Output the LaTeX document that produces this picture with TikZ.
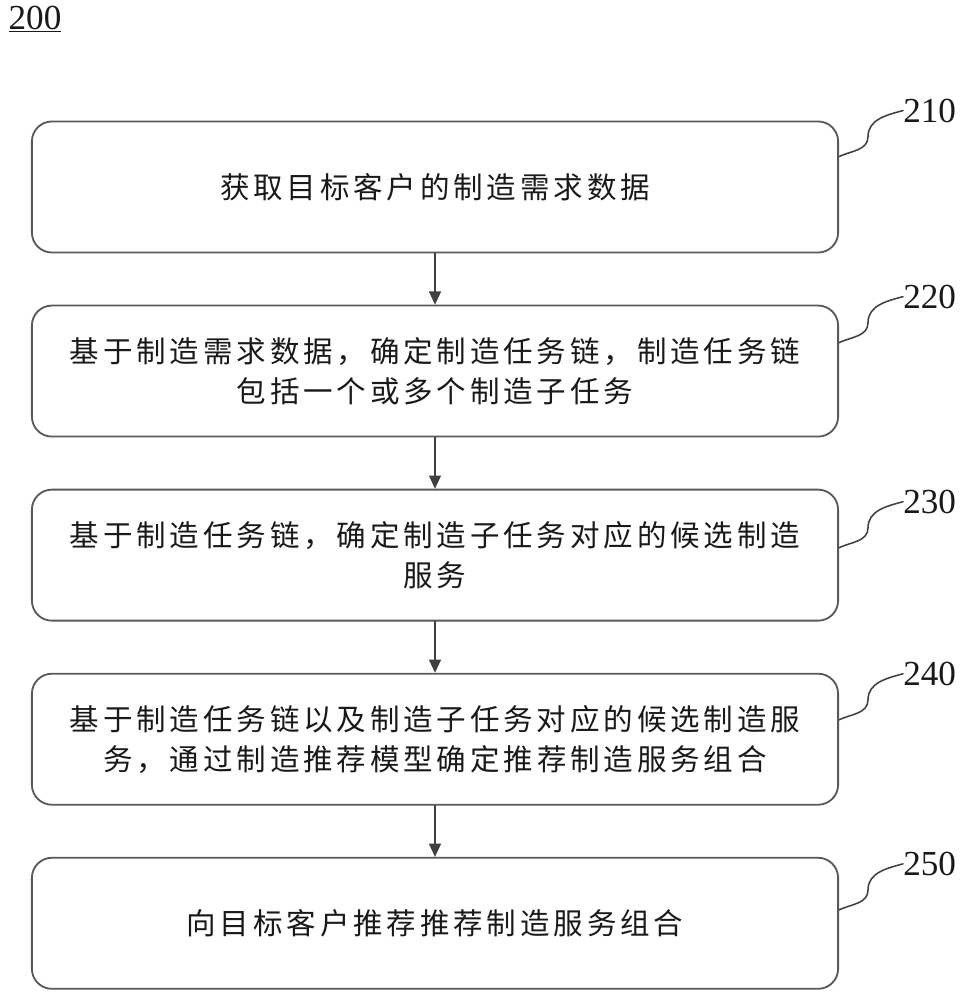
\documentclass[tikz,border=0pt]{standalone}
\usepackage{fontspec}
\setmainfont{Liberation Serif}
\newfontfamily\cjk[LetterSpace=13]{Noto Sans CJK SC}
\usetikzlibrary{positioning,calc,arrows.meta}
\begin{document}
\begin{tikzpicture}[x=0.025cm,y=0.025cm,line cap=round,line join=round,
		stepbox/.style={draw=black!65,line width=1.3pt,rounded corners=0.5cm,minimum width=20.15cm,minimum height=3.275cm,align=center,text=black!90,font=\cjk\fontsize{21pt}{28.5pt}\selectfont},
		numtag/.style={inner sep=0pt,text=black!90,font=\fontsize{25pt}{28pt}\selectfont},
		flow/.style={draw=black!75,line width=1pt,-{Triangle[length=0.33cm,width=0.3cm]}},
		wave/.style={draw=black!75,line width=1.1pt}]
	\useasboundingbox (0,0) rectangle (968,1000);
	\node[numtag] (fig) at (35,981) {\underline{200}};
	\node[stepbox] (s210) at (435,813) {获取目标客户的制造需求数据};
	\node[stepbox,below=1.28cm of s210] (s220) {基于制造需求数据，确定制造任务链，制造任务链\\包括一个或多个制造子任务};
	\node[stepbox,below=1.28cm of s220] (s230) {基于制造任务链，确定制造子任务对应的候选制造\\服务};
	\node[stepbox,below=1.28cm of s230] (s240) {基于制造任务链以及制造子任务对应的候选制造服\\务，通过制造推荐模型确定推荐制造服务组合};
	\node[stepbox,below=1.28cm of s240] (s250) {向目标客户推荐推荐制造服务组合};
	\foreach \a/\b in {210/220,220/230,230/240,240/250}{\draw[flow] (s\a) -- (s\b);}
	\foreach \n/\dy in {210/-10,220/-8,230/13,240/1,250/7}{
		\node[numtag,anchor=west] (t\n) at ($(s\n.north east)+(64,-\dy)$) {\n};
		\coordinate (a\n) at ($(s\n.north east)+(0,-\dy-46)$);
		\draw[wave] (a\n) to[out=25,in=-90] ++(29,20) to[out=90,in=195] (t\n.west);
	}
\end{tikzpicture}
\end{document}
